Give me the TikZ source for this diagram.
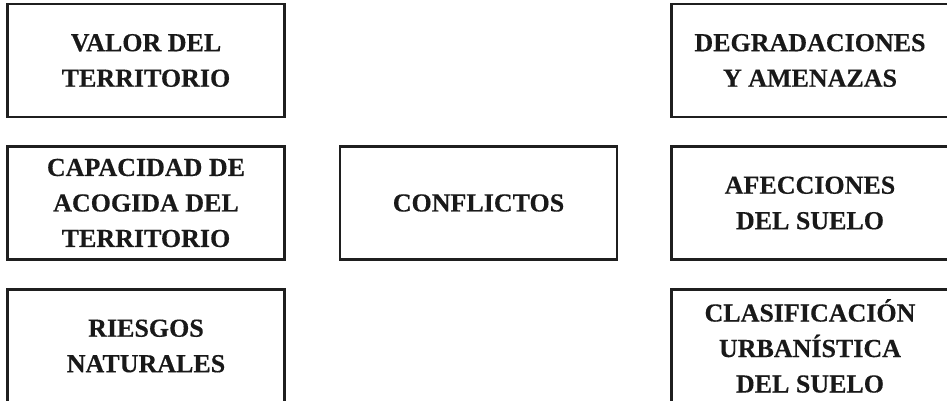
\documentclass[tikz,border=0pt]{standalone}
\usepackage{fontspec}
\setmainfont{Liberation Serif}
\newfontfamily\boxfont[FakeBold=0.35]{Liberation Serif Bold}
\begin{document}
\begin{tikzpicture}[x=1pt,y=1pt,
  cbox/.style={draw=black!88, line width=2.1pt, rectangle, minimum width=277pt, minimum height=113pt,
    inner sep=0pt, align=center, text=black!90, font=\fontsize{26}{35.5}\selectfont\boxfont}]
\useasboundingbox (0,0) rectangle (947,401);
\clip (0,0) rectangle (947,401);
\node[cbox] (valor) at (146,340.5) {VALOR DEL\\TERRITORIO};
\node[cbox] (capacidad) at (146,198) {CAPACIDAD DE\\ACOGIDA DEL\\TERRITORIO};
\node[cbox] (riesgos) at (146,55) {RIESGOS\\NATURALES};
\node[cbox] (conflictos) at (478.5,198) {CONFLICTOS};
\node[cbox] (degradaciones) at (810,340.5) {DEGRADACIONES\\Y AMENAZAS};
\node[cbox] (afecciones) at (810,198) {AFECCIONES\\DEL SUELO};
\node[cbox] (clasificacion) at (810,55) {CLASIFICACIÓN\\URBANÍSTICA\\DEL SUELO};
\end{tikzpicture}
\end{document}
